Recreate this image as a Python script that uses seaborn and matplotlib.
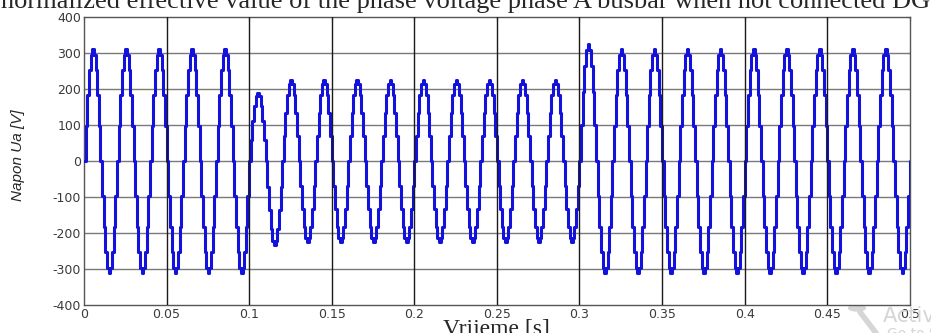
import logging
import numpy as np
import pandas as pd
import seaborn as sns
import matplotlib.pyplot as plt
from matplotlib.patches import Circle
from matplotlib.lines import Line2D

logging.getLogger("matplotlib.font_manager").setLevel(logging.ERROR)

freq_hz = 50
sample_s = 0.001
t_end = 0.5
# peak value of each half cycle (positive, negative), per cycle of 20 ms
pos_peaks = [311, 311, 311, 311, 311,
             190, 225, 225, 225, 225, 225, 225, 225, 225, 225,
             325, 311, 311, 311, 311, 311, 311, 311, 311, 311]
neg_peaks = [-311, -311, -311, -311, -311,
             -233, -225, -225, -225, -225, -225, -225, -225, -225, -225,
             -311, -311, -311, -311, -311, -311, -311, -311, -311, -311]

x_ticks = [0, 0.05, 0.1, 0.15, 0.2, 0.25, 0.3, 0.35, 0.4, 0.45, 0.5]
x_tick_labels = ["0", "0.05", "0.1", "0.15", "0.2", "0.25", "0.3", "0.35", "0.4", "0.45", "0.5"]
y_ticks = [-400, -300, -200, -100, 0, 100, 200, 300, 400]

title = "normalized effective value of the phase voltage phase A busbar when not connected DG"

# build waveform: sinusoid scaled by the half-cycle peak read for each half period
t = np.arange(0, t_end + sample_s / 2, sample_s)
shape = np.sin(2 * np.pi * freq_hz * t)
cycle = np.minimum((t * freq_hz).astype(int), len(pos_peaks) - 1)
amp = np.where(shape >= 0, np.array(pos_peaks)[cycle], -np.array(neg_peaks)[cycle])
df = pd.DataFrame({"t": t, "u": amp * shape})

sns.set_style("white")
plt.rcParams["axes.unicode_minus"] = False
fig = plt.figure(figsize=(9.31, 3.33), dpi=100)
ax = fig.add_axes([0.0902, 0.084, 0.887, 0.865])

sns.lineplot(data=df, x="t", y="u", ax=ax, color="#1212dc", linewidth=2.2,
             drawstyle="steps-post", estimator=None, zorder=3)

ax.set_xlim(0, 0.5)
ax.set_ylim(-400, 400)
ax.set_xticks(x_ticks)
ax.set_xticklabels(x_tick_labels)
ax.set_yticks(y_ticks)
for xt in x_ticks[1:-1]:
    ax.axvline(xt, color="#1a1a1a", linewidth=1.0, zorder=4)
for yt in y_ticks[1:-1]:
    ax.axhline(yt, color="#7a7a7a", linewidth=1.0, zorder=1)

ax.tick_params(direction="in", length=3, labelsize=9, labelcolor="#3a3a3a",
               top=True, right=True, color="#444444", pad=2)
for sp in ax.spines.values():
    sp.set_color("#555555")
    sp.set_linewidth(1.0)

ax.set_xlabel("Vrijeme [s]", family="Liberation Serif", fontsize=17)
ax.xaxis.set_label_coords(0.5, -0.05)
ax.set_ylabel("Napon Ua [V]", family=["Liberation Sans Narrow", "Liberation Sans"],
              style="italic", fontsize=11)
ax.yaxis.set_label_coords(-0.072, 0.52)

fig.text(0.5, 1 - 8 / 333, title, family="Liberation Serif", fontsize=19,
         ha="center", va="baseline")

# faint desktop watermark at the lower right corner
wm = "#d6d6d6"
fig.add_artist(Circle((857 / 931, 1 - 308 / 333), 0.009, transform=fig.transFigure,
                      color=wm, zorder=0))
fig.add_artist(Line2D([860 / 931, 876 / 931], [1 - 312 / 333, 1 - 333 / 333],
                      transform=fig.transFigure, color=wm, linewidth=4, zorder=0))
fig.text(883 / 931, 1 - 322 / 333, "Activate Windows", color=wm, fontsize=15,
         ha="left", va="baseline")
fig.text(887 / 931, 1 - 338 / 333, "Go to Settings to activate Windows.", color=wm,
         fontsize=10, ha="left", va="baseline")

fig.savefig("out.png", dpi=100)
